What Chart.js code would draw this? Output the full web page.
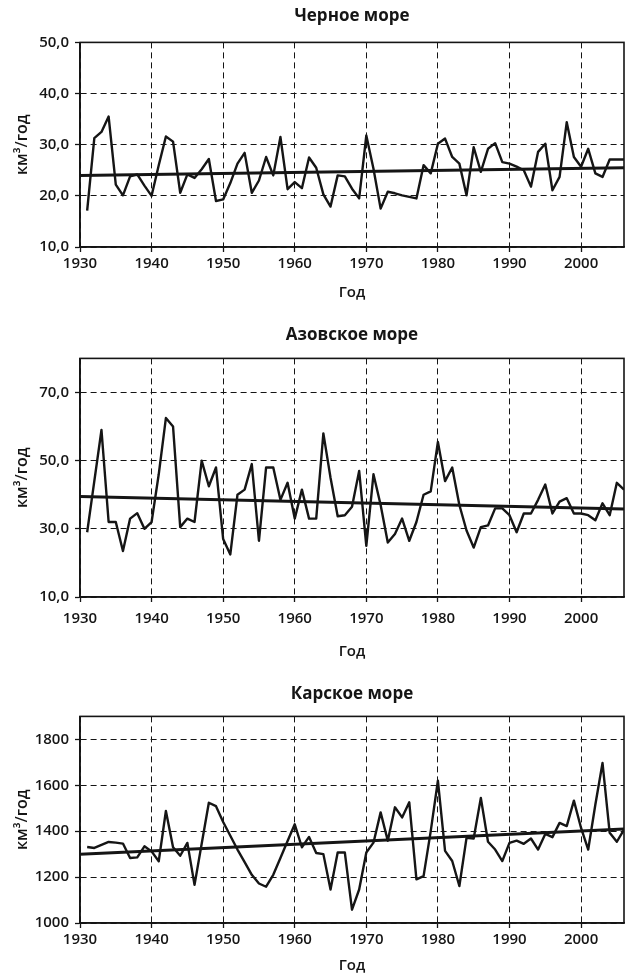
<!DOCTYPE html>
<html>
<head>
<meta charset="utf-8">
<script src="https://cdn.jsdelivr.net/npm/chart.js@4.4.1/dist/chart.umd.min.js"></script>
<style>
  html, body { margin: 0; padding: 0; background: #fff; }
  body { width: 627px; height: 979px; position: relative; overflow: hidden; }
  canvas { position: absolute; left: 0; }
</style>
</head>
<body>
<canvas id="blackSeaChart" width="627" height="302" style="top:0px"></canvas>
<canvas id="azovChart" width="627" height="351" style="top:310px"></canvas>
<canvas id="karaChart" width="627" height="311" style="top:665px"></canvas>
<script>
// Annual river inflow, km³/year
const years = [
  1931, 1932, 1933, 1934, 1935, 1936, 1937, 1938, 1939, 1940,
  1941, 1942, 1943, 1944, 1945, 1946, 1947, 1948, 1949, 1950,
  1951, 1952, 1953, 1954, 1955, 1956, 1957, 1958, 1959, 1960,
  1961, 1962, 1963, 1964, 1965, 1966, 1967, 1968, 1969, 1970,
  1971, 1972, 1973, 1974, 1975, 1976, 1977, 1978, 1979, 1980,
  1981, 1982, 1983, 1984, 1985, 1986, 1987, 1988, 1989, 1990,
  1991, 1992, 1993, 1994, 1995, 1996, 1997, 1998, 1999, 2000,
  2001, 2002, 2003, 2004, 2005, 2006
];

const blackSea = [
  17.1, 31.3, 32.5, 35.5, 22.2, 20.1, 23.8, 24.2, 22.0, 20.0,
  26.0, 31.6, 30.6, 20.6, 24.2, 23.5, 25.2, 27.2, 19.0, 19.3,
  22.5, 26.3, 28.4, 20.6, 23.0, 27.6, 24.0, 31.5, 21.3, 22.7,
  21.5, 27.5, 25.5, 20.3, 17.9, 24.0, 23.8, 21.4, 19.5, 31.8,
  25.3, 17.5, 20.8, 20.5, 20.1, 19.8, 19.5, 26.0, 24.4, 30.2,
  31.2, 27.6, 26.3, 20.1, 29.5, 24.7, 29.2, 30.3, 26.6, 26.3,
  25.7, 25.0, 21.8, 28.6, 30.2, 21.1, 23.7, 34.4, 27.6, 25.7,
  29.2, 24.4, 23.7, 27.1, 27.1, 27.1
];

const azov = [
  29, 44, 59, 32, 32, 23.5, 33, 34.6, 30, 32,
  46, 62.5, 60, 30.5, 33, 32, 50, 42.5, 48, 27,
  22.5, 40, 41.5, 49, 26.5, 48, 48, 38.5, 43.5, 33,
  41.5, 33, 33, 58, 45, 33.7, 34, 36.5, 47, 25,
  46, 37, 26, 28.5, 33, 26.5, 32, 40, 41, 55.5,
  44, 48, 37, 29.5, 24.5, 30.5, 31, 36, 36, 34,
  29, 34.5, 34.5, 38.5, 43, 34.5, 38, 39, 34.5, 34.5,
  34, 32.5, 37.5, 34, 43.5, 41.5
];

const kara = [
  1331, 1327, 1340, 1353, 1350, 1346, 1283, 1286, 1334, 1312,
  1269, 1488, 1330, 1293, 1349, 1166, 1345, 1524, 1509, 1440,
  1380, 1320, 1265, 1210, 1172, 1158, 1210, 1283, 1357, 1430,
  1330, 1375, 1305, 1300, 1146, 1307, 1307, 1058, 1146, 1307,
  1350, 1482, 1358, 1504, 1460, 1526, 1190, 1204, 1400, 1620,
  1314, 1270, 1161, 1371, 1368, 1545, 1354, 1320, 1270, 1349,
  1359, 1345, 1368, 1320, 1388, 1374, 1436, 1422, 1533, 1414,
  1320, 1516, 1697, 1393, 1354, 1407
];

// Linear trend: value at the start and at the end of the period
const trendYears = [1930, 2006];
const blackSeaTrend = [24.0, 25.5];
const azovTrend = [39.5, 35.8];
const karaTrend = [1300, 1410];

// Axis ranges and tick values
const xRange = [1930, 2006];
const xTicks = [1930, 1940, 1950, 1960, 1970, 1980, 1990, 2000];
const blackSeaRange = [10, 50];
const blackSeaTicks = [10, 20, 30, 40, 50];
const azovRange = [10, 80];
const azovTicks = [10, 30, 50, 70];
const karaRange = [1000, 1900];
const karaTicks = [1000, 1200, 1400, 1600, 1800];

const titles = ['Черное море', 'Азовское море', 'Карское море'];
const xTitle = 'Год';
const yTitle = 'км³/год';

const INK = '#151515';
const tickFont = { family: "'Open Sans', sans-serif", size: 15, weight: '600', lineHeight: 1.2 };
const xLabelFont = { family: "'Open Sans', sans-serif", size: 15, weight: '600', lineHeight: 1.2 };
const yLabelFont = { family: "'Open Sans', sans-serif", size: 16, weight: '600', lineHeight: 1.2 };
const titleFont = { family: "'Open Sans', sans-serif", size: 17, weight: 'bold', lineHeight: 1.2 };

const comma1 = v => v.toFixed(1).replace('.', ',');
const plain = v => String(v);

// Plot frame drawn over the data
const frame = {
  id: 'frame',
  afterDraw(chart) {
    const { ctx, chartArea: a } = chart;
    ctx.save();
    ctx.strokeStyle = INK;
    ctx.lineWidth = 1.6;
    ctx.strokeRect(a.left, a.top, a.right - a.left, a.bottom - a.top);
    ctx.restore();
  }
};

function drawPanel(canvasId, title, values, trend, yRange, yTicks, fmt, box) {
  const canvas = document.getElementById(canvasId);
  const H = canvas.height;
  const lh = 20;
  const series = years.map((yr, i) => ({ x: yr, y: values[i] }));
  const trendLine = trendYears.map((yr, i) => ({ x: yr, y: trend[i] }));
  new Chart(canvas, {
    type: 'line',
    data: {
      datasets: [
        { data: series, borderColor: INK, borderWidth: 2.4, pointRadius: 0, tension: 0, borderJoinStyle: 'round' },
        { data: trendLine, borderColor: INK, borderWidth: 3, pointRadius: 0 }
      ]
    },
    options: {
      responsive: false,
      animation: false,
      events: [],
      layout: { padding: { left: 0, right: 3, top: 0, bottom: 0 } },
      plugins: {
        legend: { display: false },
        tooltip: { enabled: false },
        title: {
          display: true, text: title, color: INK, fullSize: false, font: titleFont,
          padding: { top: box.titleY - lh / 2, bottom: box.areaTop - box.titleY - lh / 2 }
        }
      },
      scales: {
        x: {
          type: 'linear', min: xRange[0], max: xRange[1],
          afterBuildTicks: s => { s.ticks = xTicks.map(v => ({ value: v })); },
          afterFit: s => { s.height = H - box.areaBottom; },
          ticks: { color: INK, font: tickFont, padding: box.xPad, maxRotation: 0, autoSkip: false, callback: plain },
          grid: { color: INK, lineWidth: 1, tickLength: 5, tickColor: INK, tickWidth: 1.3 },
          border: { display: true, color: INK, width: 1.6, dash: [6, 4] },
          title: { display: true, text: xTitle, color: INK, font: xLabelFont, padding: { top: 0, bottom: H - box.xTitleY - 9 } }
        },
        y: {
          type: 'linear', min: yRange[0], max: yRange[1],
          afterBuildTicks: s => { s.ticks = yTicks.map(v => ({ value: v })); },
          afterFit: s => { s.width = 80; },
          ticks: { color: INK, font: tickFont, padding: 6, autoSkip: false, callback: fmt },
          grid: { color: INK, lineWidth: 1, tickLength: 5, tickColor: INK, tickWidth: 1.3 },
          border: { display: true, color: INK, width: 1.6, dash: [6, 4] },
          title: { display: true, text: yTitle, color: INK, font: yLabelFont, padding: { top: 13, bottom: 0 } }
        }
      }
    },
    plugins: [frame]
  });
}

drawPanel('blackSeaChart', titles[0], blackSea, blackSeaTrend, blackSeaRange, blackSeaTicks, comma1,
  { titleY: 16, areaTop: 42, areaBottom: 247, xPad: 3, xTitleY: 293 });
drawPanel('azovChart', titles[1], azov, azovTrend, azovRange, azovTicks, comma1,
  { titleY: 25, areaTop: 48, areaBottom: 287, xPad: 8, xTitleY: 342 });
drawPanel('karaChart', titles[2], kara, karaTrend, karaRange, karaTicks, plain,
  { titleY: 29, areaTop: 51, areaBottom: 258, xPad: 3, xTitleY: 301 });
</script>
</body>
</html>
